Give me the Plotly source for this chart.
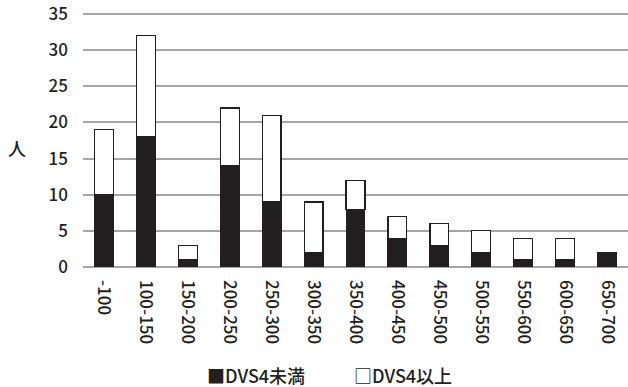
import plotly.graph_objects as go

categories = ["-100", "100-150", "150-200", "200-250", "250-300", "300-350", "350-400",
              "400-450", "450-500", "500-550", "550-600", "600-650", "650-700"]
below_dvs4 = [10, 18, 1, 14, 9, 2, 8, 4, 3, 2, 1, 1, 2]
above_dvs4 = [9, 14, 2, 8, 12, 7, 4, 3, 3, 3, 3, 3, 0]
y_ticks = [0, 5, 10, 15, 20, 25, 30, 35]

INK = "#231f20"
FONT = "Noto Sans CJK JP"
WEIGHT = 500

fig = go.Figure()
fig.add_trace(go.Bar(x=categories, y=below_dvs4, name="DVS4未満",
                     marker=dict(color=INK, line=dict(color=INK, width=1))))
fig.add_trace(go.Bar(x=categories, y=above_dvs4, name="DVS4以上",
                     marker=dict(color="white", line=dict(color=INK, width=1.2))))

fig.update_layout(
    barmode="stack",
    bargap=0.55,
    width=628, height=387,
    margin=dict(l=83, r=0, t=13, b=120),
    plot_bgcolor="white", paper_bgcolor="white",
    showlegend=False,
    font=dict(family=FONT, size=17, color=INK, weight=WEIGHT),
)
fig.update_xaxes(tickangle=90, showgrid=False, ticks="", showline=False,
                 ticklabelstandoff=12,
                 tickfont=dict(family=FONT, size=17, color=INK, weight=WEIGHT))
fig.update_yaxes(range=[0, 35.15], tickvals=y_ticks, showgrid=True,
                 gridcolor="#a6a6a6", gridwidth=1.5, zeroline=True,
                 zerolinecolor="#a6a6a6", zerolinewidth=1.5, ticks="",
                 ticklabelstandoff=14, ticklabeloverflow="allow",
                 tickfont=dict(family=FONT, size=17, color=INK, weight=WEIGHT))

fig.add_annotation(text="人", xref="paper", yref="paper", x=-0.121, y=0.47,
                   xanchor="center", yanchor="middle", showarrow=False,
                   font=dict(family=FONT, size=18, color=INK, weight=WEIGHT))
fig.add_annotation(text="■DVS4未満", xref="paper", yref="paper", x=0.317, y=-0.427,
                   xanchor="center", yanchor="middle", showarrow=False,
                   font=dict(family=FONT, size=18, color=INK, weight=WEIGHT))
fig.add_annotation(text="□DVS4以上", xref="paper", yref="paper", x=0.587, y=-0.427,
                   xanchor="center", yanchor="middle", showarrow=False,
                   font=dict(family=FONT, size=18, color=INK, weight=WEIGHT))

fig.write_html("out.html")
